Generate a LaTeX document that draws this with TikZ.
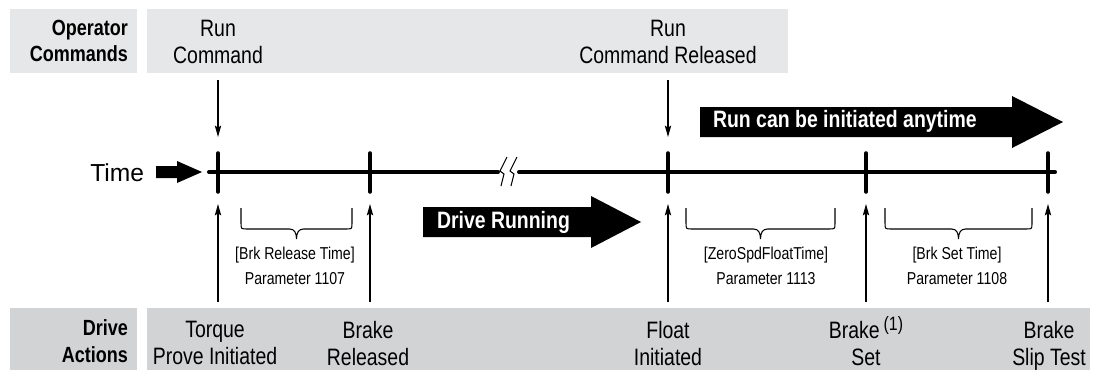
\documentclass[tikz,border=0pt]{standalone}
\usepackage{fontspec}
\setmainfont{Liberation Sans}[FakeStretch=0.82]
\newfontfamily\timefont{Liberation Sans}
\usetikzlibrary{arrows.meta,positioning,calc}
\definecolor{cmdgray}{HTML}{E6E7E8}
\definecolor{actgray}{HTML}{D1D3D4}

\begin{document}
\begin{tikzpicture}[
  x=0.02cm, y=-0.02cm,
  >={Stealth[length=6.5pt,width=3.6pt,inset=1.2pt]},
  every node/.style={inner sep=0pt, outer sep=0pt},
  bandlbl/.style={anchor=north east, align=right, font=\fontsize{12.5}{15}\selectfont\bfseries},
  evt/.style={anchor=north, align=center, font=\fontsize{13.5}{15.5}\selectfont},
  param/.style={anchor=north, align=center, font=\fontsize{9.8}{14}\selectfont},
  fatlbl/.style={anchor=base west, text=white, font=\fontsize{13.5}{15}\selectfont\bfseries},
  axis/.style={line width=2.3pt, line cap=round},
  tickmark/.style={line width=2pt, line cap=round},
  sig/.style={->, line width=0.6pt},
  bracket/.style={line width=0.6pt},
  zig/.style={line width=0.6pt}
]
\useasboundingbox (0,0) rectangle (1098,372);

% bands
\fill[cmdgray] (10,9) rectangle (137,73);
\fill[cmdgray] (147,9) rectangle (788,73);
\fill[actgray] (10,308) rectangle (137,370);
\fill[actgray] (147,308) rectangle (1090,370);

\node[bandlbl] (opcmd) at (128,20) {Operator\\Commands};
\node[bandlbl] (drvact) at (128,320) {Drive\\Actions};

% operator commands
\node[evt] (runcmd) at (218,20) {Run\\Command};
\node[evt] (runrel) at (668,20) {Run\\Command Released};

% drive actions
\node[evt] (tqprove) at (215,321) {Torque\\Prove Initiated};
\node[evt] (brkrel) at (368,321) {Brake\\Released};
\node[evt] (fltinit) at (668,321) {Float\\Initiated};
\node[evt] (brkset) at (866,321) {Brake\smash{\,\raisebox{0.6ex}{\fontsize{11}{12}\selectfont(1)}}\\Set};
\node[evt] (slip) at (1049,321) {Brake\\Slip Test};

% time axis
\node[anchor=base east, font=\timefont\fontsize{14}{16}\selectfont] (timelbl) at (144,181) {Time};
\fill (156,166) -- (177,166) -- (177,161) -- (202,172) -- (177,183) -- (177,178) -- (156,178) -- cycle;
\coordinate (axstart) at (209,172);
\coordinate (gapl) at (498,172);
\coordinate (gapr) at (519,172);
\coordinate (axend) at (1055,172);
\draw[axis] (axstart) -- (gapl);
\draw[axis] (gapr) -- (axend);
\draw[zig] (507,157) -- (500,171) -- (504,174) -- (501,186);
\draw[zig] (517,157) -- (510,171) -- (514,174) -- (511,186);

\foreach \n/\x in {a/218, b/370, c/668, d/866, e/1048} {
  \coordinate (t\n) at (\x,172);
  \draw[tickmark] (\x,153) -- (\x,192);
  \draw[sig] ($(t\n)+(0,130)$) -- ($(t\n)+(0,32)$);
}
\draw[sig] ($(runcmd.south)+(0,16)$) -- ($(ta)+(0,-35)$);
\draw[sig] ($(runrel.south)+(0,16)$) -- ($(tc)+(0,-35)$);

% braces and parameters
\foreach \l/\r [evaluate=\l as \m using (\l+\r)/2] in {241/352, 686/835, 885/1032}
  \draw[bracket] (\l,208) -- (\l,223) .. controls (\l,229) .. (\l+6,229) -- (\m-7,229)
    .. controls (\m-2,229) and (\m,233) .. (\m,239) .. controls (\m,233) and (\m+2,229) .. (\m+7,229)
    -- (\r-6,229) .. controls (\r,229) .. (\r,223) -- (\r,208);
\node[param] (brlparam) at (295,247) {[Brk Release Time]\\Parameter 1107};
\node[param] (zsfparam) at (766,247) {[ZeroSpdFloatTime]\\Parameter 1113};
\node[param] (bstparam) at (957,247) {[Brk Set Time]\\Parameter 1108};

% fat arrows
\fill (423,207) -- (591,207) -- (591,196) -- (641,222) -- (591,248) -- (591,237) -- (423,237) -- cycle;
\node[fatlbl] (drvrun) at (437,228) {Drive Running};
\fill (700,107) -- (1012,107) -- (1012,96) -- (1063,122) -- (1012,148) -- (1012,137) -- (700,137) -- cycle;
\node[fatlbl] (runany) at (713,127) {Run can be initiated anytime};
\end{tikzpicture}
\end{document}
